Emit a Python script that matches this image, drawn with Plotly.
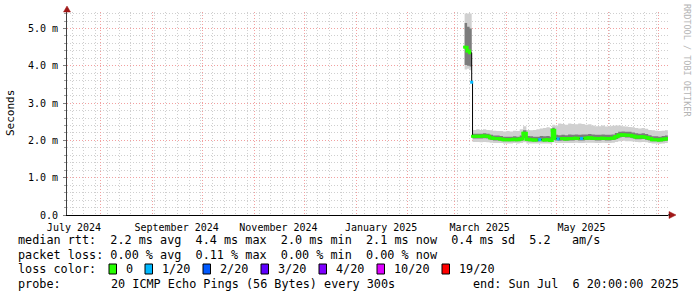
import plotly.graph_objects as go

# ---------------- data ----------------
dates = ["2025-03-07 00:00", "2025-03-08 12:00", "2025-03-10 00:00", "2025-03-11 06:00",
         "2025-03-11 18:00", "2025-03-14", "2025-03-16", "2025-03-18", "2025-03-20",
         "2025-03-22", "2025-03-24", "2025-03-26", "2025-03-28", "2025-03-30",
         "2025-04-01", "2025-04-03", "2025-04-05", "2025-04-07", "2025-04-09",
         "2025-04-11", "2025-04-13", "2025-04-15", "2025-04-17", "2025-04-19",
         "2025-04-21", "2025-04-23", "2025-04-25", "2025-04-27", "2025-04-28 12:00",
         "2025-04-30", "2025-05-02", "2025-05-04", "2025-05-06", "2025-05-08",
         "2025-05-10", "2025-05-12", "2025-05-14", "2025-05-16", "2025-05-18",
         "2025-05-20", "2025-05-22", "2025-05-24", "2025-05-26", "2025-05-28",
         "2025-05-30", "2025-06-01", "2025-06-03", "2025-06-05", "2025-06-07",
         "2025-06-09", "2025-06-11", "2025-06-13", "2025-06-15", "2025-06-17",
         "2025-06-19", "2025-06-21", "2025-06-23", "2025-06-25", "2025-06-27",
         "2025-06-29", "2025-07-01", "2025-07-03", "2025-07-05", "2025-07-06 18:00"]

median_ms = [4.50, 4.40, 4.35, 3.56, 2.11, 2.11, 2.11, 2.12, 2.11, 2.07, 2.05, 2.05, 2.04, 2.02,
             2.02, 2.02, 2.03, 2.02, 2.04, 2.19, 2.03, 2.02, 2.01, 2.01, 2.02, 2.01, 2.02, 2.00,
             2.27, 2.05, 2.04, 2.05, 2.04, 2.05, 2.05, 2.06, 2.05, 2.05, 2.06, 2.07, 2.06, 2.05,
             2.05, 2.06, 2.05, 2.05, 2.06, 2.10, 2.14, 2.15, 2.14, 2.14, 2.12, 2.09, 2.09, 2.10,
             2.08, 2.05, 2.02, 2.02, 2.01, 2.03, 2.04, 2.05]

loss_count = [0, 0, 0, 1, 0, 0, 0, 0, 0, 0, 0, 0, 0, 0,
              0, 0, 0, 0, 0, 0, 0, 0, 0, 0, 1, 0, 0, 0,
              0, 0, 1, 0, 0, 0, 0, 0, 0, 1, 0, 0, 0, 0,
              0, 0, 0, 0, 0, 0, 0, 0, 0, 0, 0, 0, 0, 0,
              0, 0, 0, 0, 0, 0, 0, 0]

ping_min = [3.90, 3.92, 3.88, 3.56, 1.96, 1.96, 1.95, 1.96, 1.95, 1.94, 1.93, 1.93, 1.93, 1.92,
            1.92, 1.92, 1.93, 1.92, 1.93, 1.95, 1.92, 1.92, 1.92, 1.92, 1.92, 1.92, 1.92, 1.91,
            1.95, 1.93, 1.93, 1.93, 1.93, 1.93, 1.93, 1.94, 1.93, 1.93, 1.94, 1.94, 1.94, 1.93,
            1.93, 1.94, 1.93, 1.93, 1.94, 1.96, 1.98, 1.99, 1.98, 1.98, 1.97, 1.96, 1.95, 1.96,
            1.95, 1.93, 1.92, 1.92, 1.91, 1.92, 1.93, 1.93]

ping_p20 = [4.02, 4.00, 3.98, 3.56, 2.05, 2.05, 2.05, 2.06, 2.05, 2.02, 2.00, 2.00, 1.99, 1.98,
            1.98, 1.98, 1.98, 1.98, 1.99, 2.06, 1.98, 1.98, 1.97, 1.97, 1.98, 1.97, 1.98, 1.96,
            2.08, 2.00, 1.99, 2.00, 1.99, 2.00, 2.00, 2.01, 2.00, 2.00, 2.01, 2.02, 2.01, 2.00,
            2.00, 2.01, 2.00, 2.00, 2.01, 2.04, 2.08, 2.09, 2.08, 2.08, 2.06, 2.03, 2.03, 2.04,
            2.02, 2.00, 1.98, 1.98, 1.97, 1.98, 1.99, 2.00]

ping_p80 = [5.15, 5.05, 5.00, 3.56, 2.18, 2.18, 2.18, 2.19, 2.18, 2.15, 2.13, 2.13, 2.12, 2.10,
            2.10, 2.10, 2.11, 2.10, 2.13, 2.27, 2.12, 2.11, 2.10, 2.10, 2.12, 2.11, 2.12, 2.10,
            2.34, 2.15, 2.14, 2.15, 2.14, 2.16, 2.15, 2.16, 2.15, 2.16, 2.16, 2.17, 2.16, 2.15,
            2.15, 2.16, 2.15, 2.15, 2.16, 2.20, 2.23, 2.24, 2.23, 2.23, 2.21, 2.19, 2.18, 2.19,
            2.17, 2.14, 2.11, 2.11, 2.10, 2.12, 2.13, 2.14]

ping_max = [5.40, 5.40, 5.40, 3.56, 2.28, 2.30, 2.28, 2.30, 2.28, 2.27, 2.26, 2.25, 2.25, 2.24,
            2.25, 2.24, 2.26, 2.25, 2.30, 2.38, 2.28, 2.27, 2.28, 2.30, 2.32, 2.33, 2.35, 2.33,
            2.42, 2.40, 2.45, 2.44, 2.42, 2.45, 2.44, 2.43, 2.45, 2.44, 2.42, 2.43, 2.40, 2.38,
            2.38, 2.40, 2.37, 2.38, 2.39, 2.40, 2.40, 2.38, 2.37, 2.36, 2.35, 2.33, 2.32, 2.33,
            2.31, 2.28, 2.27, 2.26, 2.25, 2.26, 2.27, 2.28]

loss_levels = [0, 1, 2, 3, 4, 10, 19]
loss_labels = ["0", "1/20", "2/20", "3/20", "4/20", "10/20", "19/20"]
loss_colors = ["#26ff00", "#00b8ff", "#0059ff", "#5e00ff", "#7e00ff", "#dd00ff", "#ff0000"]

y_tickvals = [0, 1, 2, 3, 4, 5]
y_ticktext = ["0.0", "1.0 m", "2.0 m", "3.0 m", "4.0 m", "5.0 m"]

x_label_dates = ["2024-07-16", "2024-09-15 12:00", "2024-11-15 12:00",
                 "2025-01-16", "2025-03-16", "2025-05-16"]
x_label_text = ["July 2024", "September 2024", "November 2024",
                "January 2025", "March 2025", "May 2025"]

x_start = "2024-07-11 20:00"
x_end = "2025-07-06 20:00"

stats_rtt = "median rtt:  2.2 ms avg  4.4 ms max  2.0 ms min  2.1 ms now  0.4 ms sd  5.2   am/s"
stats_loss = "packet loss: 0.00 % avg  0.11 % max  0.00 % min  0.00 % now"
probe_text = "20 ICMP Echo Pings (56 Bytes) every 300s"
end_text = "end: Sun Jul  6 20:00:00 2025"

# ---------------- layout helpers ----------------
W, H = 697, 297
L, R, T, B = 67, 668, 12, 215
PW, PH = R - L, B - T
MONO = "DejaVu Sans Mono"


def px(x):
    return (x - L) / PW


def py(y):
    return (B - y) / PH


def nb(s):
    return s.replace(" ", "\u00a0")


fig = go.Figure()

# smoke on the main (grid) x axis
fig.add_trace(go.Scatter(x=dates, y=ping_min, mode="lines", line=dict(width=0, shape="hv"),
                         xaxis="x", hoverinfo="skip", showlegend=False))
fig.add_trace(go.Scatter(x=dates, y=ping_max, mode="lines", line=dict(width=0, shape="hv"),
                         fill="tonexty", fillcolor="#d0d0d0", xaxis="x",
                         hoverinfo="skip", showlegend=False))
fig.add_trace(go.Scatter(x=dates, y=ping_p20, mode="lines", line=dict(width=0, shape="hv"),
                         xaxis="x", hoverinfo="skip", showlegend=False))
fig.add_trace(go.Scatter(x=dates, y=ping_p80, mode="lines", line=dict(width=0, shape="hv"),
                         fill="tonexty", fillcolor="#7c7c7c", xaxis="x",
                         hoverinfo="skip", showlegend=False))

# median on the overlaid (label) x axis -> drawn on top of the smoke
fig.add_trace(go.Scatter(x=dates, y=median_ms, mode="lines", xaxis="x2",
                         line=dict(color="#000000", width=1, shape="hv"),
                         showlegend=False))
for lvl, col in zip(loss_levels, loss_colors):
    ys = [m if l == lvl else None for m, l in zip(median_ms, loss_count)]
    if all(v is None for v in ys):
        continue
    fig.add_trace(go.Scatter(x=dates, y=ys, mode="lines+markers", xaxis="x2",
                             line=dict(color=col, width=3, shape="hv"),
                             marker=dict(color=col, size=3, symbol="square"),
                             connectgaps=False, showlegend=False))

grid_minor = "#cfcfcf"
grid_major = "#f2a0a0"
dots = "1px,2px"

fig.update_layout(
    width=W, height=H,
    margin=dict(l=L, r=W - R, t=T, b=H - B, pad=0),
    paper_bgcolor="#ffffff", plot_bgcolor="#ffffff",
    showlegend=False,
    font=dict(family=MONO, size=10, color="#000000"),
    xaxis=dict(
        type="date", range=[x_start, x_end],
        tickmode="linear", tick0="2024-08-01", dtick="M1",
        showticklabels=False, ticks="", zeroline=False,
        showline=True, linecolor="#000000", linewidth=1,
        showgrid=True, gridcolor=grid_major, gridwidth=1, griddash=dots,
        minor=dict(tick0="2024-07-15", dtick=7 * 24 * 3600 * 1000, showgrid=True,
                   gridcolor=grid_minor, gridwidth=1, griddash=dots),
    ),
    xaxis2=dict(
        type="date", range=[x_start, x_end], overlaying="x", anchor="y", side="bottom",
        tickmode="array", tickvals=x_label_dates, ticktext=x_label_text,
        showticklabels=True, showgrid=False, zeroline=False, ticks="", showline=False,
        ticklabelstandoff=5,
        tickfont=dict(family=MONO, size=10, color="#000000"),
    ),
    yaxis=dict(
        range=[0, PH / 37.3],
        tickmode="array", tickvals=y_tickvals, ticktext=y_ticktext,
        showgrid=True, gridcolor=grid_major, gridwidth=1, griddash=dots,
        zeroline=False, showline=True, linecolor="#404040", linewidth=1,
        ticks="outside", ticklen=3, tickcolor="#808080",
        ticklabelstandoff=3,
        tickfont=dict(family=MONO, size=10, color="#000000"),
        minor=dict(dtick=0.2, showgrid=True, gridcolor=grid_minor, gridwidth=1,
                   griddash=dots, ticks="outside", ticklen=2, tickcolor="#a0a0a0"),
    ),
)

ann = []
ann.append(dict(x=px(11), y=py(113), xref="paper", yref="paper", text="Seconds",
                textangle=-90, showarrow=False, xanchor="center", yanchor="middle",
                font=dict(family=MONO, size=11, color="#000000")))
ann.append(dict(x=px(687), y=py(60), xref="paper", yref="paper", text=nb("RRDTOOL / TOBI OETIKER"),
                textangle=90, showarrow=False, xanchor="center", yanchor="middle",
                font=dict(family=MONO, size=8.5, color="#b4b4b4")))

LEG = dict(family=MONO, size=11.8, color="#000000")
rows_y = [240, 255, 269, 284]
ann.append(dict(x=px(16), y=py(rows_y[0]), xref="paper", yref="paper", text=nb(stats_rtt),
                showarrow=False, xanchor="left", yanchor="middle", font=LEG))
ann.append(dict(x=px(16), y=py(rows_y[1]), xref="paper", yref="paper", text=nb(stats_loss),
                showarrow=False, xanchor="left", yanchor="middle", font=LEG))
ann.append(dict(x=px(16), y=py(rows_y[2]), xref="paper", yref="paper", text=nb("loss color:"),
                showarrow=False, xanchor="left", yanchor="middle", font=LEG))
ann.append(dict(x=px(16), y=py(rows_y[3]), xref="paper", yref="paper", text=nb("probe:"),
                showarrow=False, xanchor="left", yanchor="middle", font=LEG))
ann.append(dict(x=px(109), y=py(rows_y[3]), xref="paper", yref="paper", text=nb(probe_text),
                showarrow=False, xanchor="left", yanchor="middle", font=LEG))
ann.append(dict(x=px(681), y=py(rows_y[3]), xref="paper", yref="paper", text=nb(end_text),
                showarrow=False, xanchor="right", yanchor="middle", font=LEG))

label_x = [124, 160, 218, 276, 334, 392, 457]
shapes = []
for lx, lab, col in zip(label_x, loss_labels, loss_colors):
    ann.append(dict(x=px(lx), y=py(rows_y[2]), xref="paper", yref="paper", text=lab,
                    showarrow=False, xanchor="left", yanchor="middle", font=LEG))
    bx = lx - 15
    shapes.append(dict(type="rect", xref="paper", yref="paper",
                       x0=px(bx), x1=px(bx + 7.5), y0=py(rows_y[2] + 5), y1=py(rows_y[2] - 5),
                       fillcolor=col, line=dict(color="#000000", width=1)))

arrow_col = "#a01818"
shapes.append(dict(type="path", xref="paper", yref="paper",
                   path=f"M {px(L)},{py(6)} L {px(L-3.5)},{py(12)} L {px(L+3.5)},{py(12)} Z",
                   fillcolor=arrow_col, line=dict(color=arrow_col, width=0.5)))
shapes.append(dict(type="path", xref="paper", yref="paper",
                   path=f"M {px(676)},{py(B)} L {px(669)},{py(B-3.5)} L {px(669)},{py(B+3.5)} Z",
                   fillcolor=arrow_col, line=dict(color=arrow_col, width=0.5)))
shapes.append(dict(type="line", xref="paper", yref="paper",
                   x0=px(R), x1=px(670), y0=0, y1=0, line=dict(color="#000000", width=1)))

fig.update_layout(annotations=ann, shapes=shapes)
fig.write_html("out.html")
